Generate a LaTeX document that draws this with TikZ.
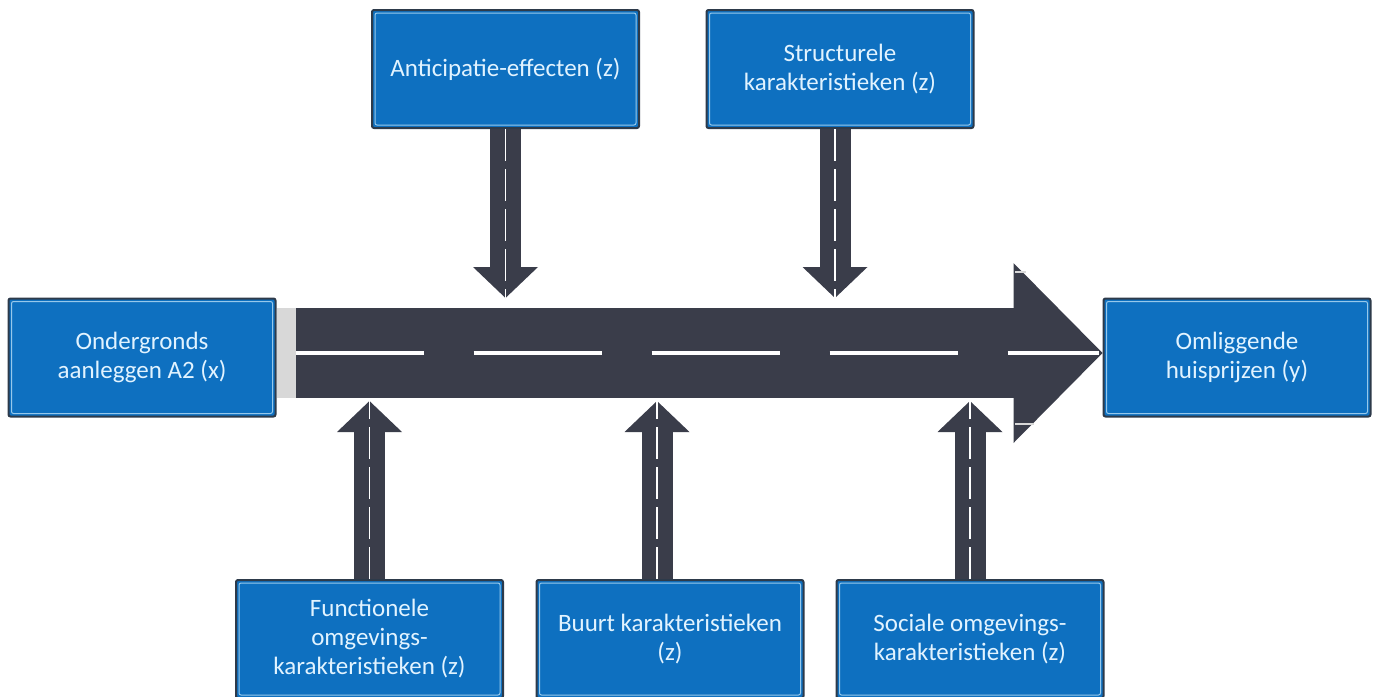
\documentclass[tikz,border=0pt]{standalone}
\usepackage{fontspec}
\setmainfont{Carlito}
\usepackage{tikz}
\usepackage{xcolor}
\usetikzlibrary{arrows.meta}
\definecolor{signblue}{RGB}{14,112,192}
\definecolor{signedge}{RGB}{45,58,74}
\definecolor{signline}{RGB}{150,200,235}
\definecolor{signtext}{RGB}{225,243,255}
\definecolor{asphalt}{RGB}{58,61,74}
\definecolor{curb}{RGB}{216,216,216}

\begin{document}
\begin{tikzpicture}[x=0.5pt, y=-0.5pt,
		sign/.style={draw=signedge, line width=1pt, fill=signblue, rounded corners=1pt, minimum width=133.5pt, minimum height=59pt, align=center, text=signtext, font=\fontsize{12.5}{14.5}\selectfont},
		feeder/.style={draw=asphalt, line width=15.5pt, -{Triangle[width=32.5pt,length=15.5pt,line width=0pt]}},
		highway/.style={draw=asphalt, line width=45pt, -{Triangle[width=90pt,length=44.5pt,line width=0pt]}},
		lane/.style={draw=white, line width=0.8pt, dash pattern=on 16pt off 4pt},
		midline/.style={draw=white, line width=2pt, dash pattern=on 64pt off 25pt},
		frame/.style={draw=signline, line width=0.5pt, rounded corners=1pt}]
				\useasboundingbox (0,0) rectangle (1378,697);
				\node[sign] (src) at (142,357.5) {Ondergronds\\aanleggen A2 (x)};
				\node[sign] (dst) at (1237,357.5) {Omliggende\\huisprijzen (y)};
				\node[sign] (ant) at (505.5,69) {Anticipatie-effecten (z)};
				\node[sign] (str) at (840,69) {Structurele\\karakteristieken (z)};
				\node[sign] (fun) at (369.5,639) {Functionele\\omgevings-\\karakteristieken (z)};
				\node[sign] (buu) at (670,639) {Buurt karakteristieken\\(z)};
				\node[sign] (soc) at (970,639) {Sociale omgevings-\\karakteristieken (z)};
				\foreach \n in {src,dst,ant,str,fun,buu,soc}
					\draw[frame] ([shift={(2pt,-2pt)}]\n.north west) rectangle ([shift={(-2pt,2pt)}]\n.south east);
				\coordinate (start) at ([yshift=2.25pt]src.east);
				\coordinate (top) at (0,298);
				\coordinate (bot) at (0,401);
				\draw[highway] (start) -- (dst.west |- start);
				\fill[curb] ([yshift=22.5pt]start) rectangle ([xshift=9.5pt,yshift=-22.5pt]start);
				\draw[midline] ([xshift=9.5pt]start) -- ([xshift=-2pt]dst.west |- start);
				\draw[curb, line width=1pt] (1015,272) -- (1026,272);
				\draw[curb, line width=1pt] (1015,424) -- (1034,424);
				\draw[feeder] (ant.south) -- (ant.south |- top);
				\draw[feeder] ([xshift=-2.5pt]str.south) -- ([xshift=-2.5pt]str.south |- top);
				\draw[feeder] (fun.north) -- (fun.north |- bot);
				\draw[feeder] ([xshift=-6.5pt]buu.north) -- ([xshift=-6.5pt]buu.north |- bot);
				\draw[feeder] (soc.north) -- (soc.north |- bot);
				\draw[lane] (ant.south) -- (ant.south |- top);
				\draw[lane] ([xshift=-2.5pt]str.south) -- ([xshift=-2.5pt]str.south |- top);
				\draw[lane] (fun.north) -- (fun.north |- bot);
				\draw[lane] ([xshift=-6.5pt]buu.north) -- ([xshift=-6.5pt]buu.north |- bot);
				\draw[lane] (soc.north) -- (soc.north |- bot);
			\end{tikzpicture}
\end{document}
